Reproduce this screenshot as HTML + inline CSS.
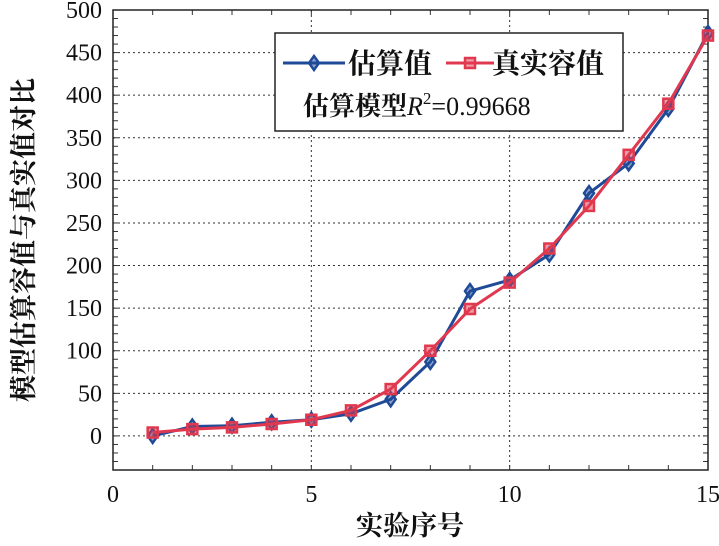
<!DOCTYPE html>
<html><head><meta charset="utf-8"><style>
body{margin:0;background:#fff;width:719px;height:541px;overflow:hidden}
svg text{font-family:"Liberation Serif","Noto Serif CJK SC",serif;fill:#111}
</style></head><body>
<svg id="c" width="719" height="541"></svg>
<script>
const categories=[1,2,3,4,5,6,7,8,9,10,11,12,13,14,15];
const estimated=[0,11,12,16,19,26,43,87,170,183,213,285,320,384,473];
const actual=[4,8,10,14,19,30,55,100,149,180,220,270,330,390,470];
const xTicks=[0,5,10,15];
const yTicks=[0,50,100,150,200,250,300,350,400,450,500];
const NS="http://www.w3.org/2000/svg";
const svg=document.getElementById('c');
const L=113,R=708,T=10,B=470,xmin=0,xmax=15,ymin=-40,ymax=500;
const X=v=>L+(v-xmin)/(xmax-xmin)*(R-L);
const Y=v=>B-(v-ymin)/(ymax-ymin)*(B-T);
function el(t,a,p){const e=document.createElementNS(NS,t);for(const k in a)e.setAttribute(k,a[k]);(p||svg).appendChild(e);return e;}
xTicks.forEach(v=>{if(v>xmin&&v<xmax){const g=el('line',{x1:X(v),x2:X(v),y1:T,y2:B,stroke:'#333','stroke-dasharray':'2,3','stroke-width':1});

}});
yTicks.forEach(v=>{if(v<ymax){const g=el('line',{x1:L,x2:R,y1:Y(v),y2:Y(v),stroke:'#333','stroke-dasharray':'2,3','stroke-width':1});

}});
for(let v=1;v<15;v++){[[B,B-5],[T,T+5]].forEach(p=>{el('line',{x1:X(v),x2:X(v),y1:p[0],y2:p[1],stroke:'#333'});});}
for(let v=-30;v<500;v+=10){[[L,L+5],[R,R-5]].forEach(p=>{el('line',{x1:p[0],x2:p[1],y1:Y(v),y2:Y(v),stroke:'#333'});});}
const fr=el('rect',{x:L,y:T,width:R-L,height:B-T,fill:'none',stroke:'#222','stroke-width':1.5});


xTicks.forEach(v=>{const t=el('text',{x:X(v),y:502,'font-size':24,'text-anchor':'middle'});t.textContent=v;

});
yTicks.forEach(v=>{const t=el('text',{x:102,y:Y(v)+8,'font-size':24,'text-anchor':'end'});t.textContent=v;

});
const xt=el('text',{x:410,y:535,'font-size':27,'font-weight':'bold','text-anchor':'middle'});xt.textContent='实验序号';


const yt=el('text',{x:0,y:0,'font-size':27,'font-weight':'bold','text-anchor':'middle',transform:'translate(33,240) rotate(-90)'});yt.textContent='模型估算容值与真实值对比';


function series(vals,color,shape,name){
 const g=el('g',{});
 
 
 el('polyline',{points:vals.map((v,i)=>X(categories[i])+','+Y(v)).join(' '),fill:'none',stroke:color,'stroke-width':3},g);
 vals.forEach((v,i)=>{const x=X(categories[i]),y=Y(v);let m;
  if(shape==='d')m=el('polygon',{points:`${x},${y-7} ${x+5},${y} ${x},${y+7} ${x-5},${y}`,fill:color,'fill-opacity':0.5,stroke:color,'stroke-width':2.5},g);
  else m=el('rect',{x:x-5,y:y-5,width:10,height:10,fill:color,'fill-opacity':0.5,stroke:color,'stroke-width':2.5},g);
  
  });
}
series(estimated,'#1f4a98','d','estimated-series');
series(actual,'#e0394f','s','actual-series');
const lg=el('g',{});


el('rect',{x:275,y:33,width:348,height:98,fill:'#fff',stroke:'#222','stroke-width':1.5},lg);
el('line',{x1:283,x2:345,y1:63,y2:63,stroke:'#1f4a98','stroke-width':3},lg);
el('polygon',{points:'314,56 319,63 314,70 309,63',fill:'#1f4a98','fill-opacity':0.5,stroke:'#1f4a98','stroke-width':2.5},lg);
const t1=el('text',{x:348,y:73,'font-size':28,'font-weight':'bold'},lg);t1.textContent='估算值';


el('line',{x1:446,x2:494,y1:63,y2:63,stroke:'#e0394f','stroke-width':3},lg);
el('rect',{x:465,y:58,width:10,height:10,fill:'#e0394f','fill-opacity':0.5,stroke:'#e0394f','stroke-width':2.5},lg);
const t2=el('text',{x:492,y:73,'font-size':28,'font-weight':'bold'},lg);t2.textContent='真实容值';


const t3=el('text',{x:303,y:115,'font-size':26},lg);
t3.innerHTML='<tspan font-weight="bold">估算模型</tspan><tspan font-style="italic">R</tspan><tspan font-size="17" dy="-11">2</tspan><tspan dy="11">=0.99668</tspan>';


</script>
</body></html>
